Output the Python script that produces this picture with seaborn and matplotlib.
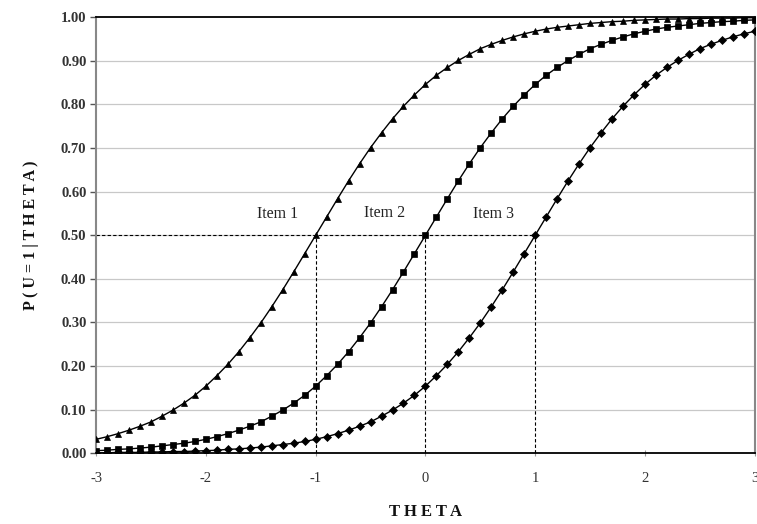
import numpy as np
import pandas as pd
import matplotlib
matplotlib.use("Agg")
import matplotlib.pyplot as plt
import seaborn as sns

# Ability grid (theta from -3 to 3 in steps of 0.1)
theta = np.round(np.arange(-30, 31) / 10, 1)

# Probability of a correct response for each item
item1 = [0.032, 0.038, 0.045, 0.053, 0.062, 0.072, 0.085, 0.099, 0.115, 0.133,
         0.154, 0.178, 0.204, 0.233, 0.265, 0.299, 0.336, 0.375, 0.416, 0.458,
         0.500, 0.542, 0.584, 0.625, 0.664, 0.701, 0.735, 0.767, 0.796, 0.822,
         0.846, 0.867, 0.885, 0.901, 0.915, 0.928, 0.938, 0.947, 0.955, 0.962,
         0.968, 0.973, 0.977, 0.980, 0.983, 0.986, 0.988, 0.990, 0.991, 0.993,
         0.994, 0.995, 0.996, 0.996, 0.997, 0.997, 0.998, 0.998, 0.998, 0.999,
         0.999]
item2 = [0.006, 0.007, 0.009, 0.010, 0.012, 0.014, 0.017, 0.020, 0.023, 0.027,
         0.032, 0.038, 0.045, 0.053, 0.062, 0.072, 0.085, 0.099, 0.115, 0.133,
         0.154, 0.178, 0.204, 0.233, 0.265, 0.299, 0.336, 0.375, 0.416, 0.458,
         0.500, 0.542, 0.584, 0.625, 0.664, 0.701, 0.735, 0.767, 0.796, 0.822,
         0.846, 0.867, 0.885, 0.901, 0.915, 0.928, 0.938, 0.947, 0.955, 0.962,
         0.968, 0.973, 0.977, 0.980, 0.983, 0.986, 0.988, 0.990, 0.991, 0.993,
         0.994]
item3 = [0.001, 0.001, 0.002, 0.002, 0.002, 0.003, 0.003, 0.004, 0.004, 0.005,
         0.006, 0.007, 0.009, 0.010, 0.012, 0.014, 0.017, 0.020, 0.023, 0.027,
         0.032, 0.038, 0.045, 0.053, 0.062, 0.072, 0.085, 0.099, 0.115, 0.133,
         0.154, 0.178, 0.204, 0.233, 0.265, 0.299, 0.336, 0.375, 0.416, 0.458,
         0.500, 0.542, 0.584, 0.625, 0.664, 0.701, 0.735, 0.767, 0.796, 0.822,
         0.846, 0.867, 0.885, 0.901, 0.915, 0.928, 0.938, 0.947, 0.955, 0.962,
         0.968]

item_names = ["Item 1", "Item 2", "Item 3"]
difficulty = [-1.0, 0.0, 1.0]
label_pos = [(-1.35, 0.548), (-0.37, 0.552), (0.62, 0.548)]
x_ticks = [-3, -2, -1, 0, 1, 2, 3]
y_ticks = np.round(np.arange(0, 11) / 10, 1)

markers = {"Item 1": "^", "Item 2": "s", "Item 3": "D"}
marker_sizes = {"Item 1": 4.3, "Item 2": 5.0, "Item 3": 4.3}

df = pd.DataFrame({
    "theta": np.tile(theta, 3),
    "p": item1 + item2 + item3,
    "item": np.repeat(item_names, len(theta)),
})

sns.set_style("white")
plt.rcParams["font.family"] = ["Liberation Serif", "DejaVu Serif"]

fig, ax = plt.subplots(figsize=(7.57, 5.24), dpi=100)
fig.subplots_adjust(left=0.127, right=0.997, top=0.967, bottom=0.135)

# Horizontal grid
for yv in y_ticks[1:-1]:
    ax.axhline(yv, color="#c8c8c8", lw=0.9, zorder=0)

# Reference lines at P = 0.5 and at each item's difficulty
ax.plot([x_ticks[0], max(difficulty)], [0.5, 0.5], color="black", lw=0.8,
        ls=(0, (3, 2)), zorder=1)
for b in difficulty:
    ax.plot([b, b], [0, 0.5], color="black", lw=0.8, ls=(0, (3, 2)), zorder=1)

# Item characteristic curves
for name in item_names:
    sns.lineplot(data=df[df["item"] == name], x="theta", y="p",
                 color="black", marker=markers[name], lw=1.0,
                 markersize=marker_sizes[name], markeredgewidth=0.5,
                 markeredgecolor="black", legend=False, ax=ax, zorder=3)

for name, (tx, ty) in zip(item_names, label_pos):
    ax.text(tx, ty, name, ha="center", va="center", fontsize=11.5, color="#222222")

ax.set_xlim(-3, 3)
ax.set_ylim(0, 1)
ax.set_xticks(x_ticks)
ax.set_xticklabels([str(v) for v in x_ticks], fontsize=10.5, color="#333333")
ax.set_yticks(y_ticks)
ax.set_yticklabels([f"{v:.2f}" for v in y_ticks], fontsize=10.5,
                   fontweight="bold", color="#333333")
ax.tick_params(axis="y", direction="out", length=4, width=1, color="#555555", left=True, pad=3)
ax.tick_params(axis="x", direction="inout", length=5, width=0.8, color="#999999", bottom=True, pad=11)

ax.set_xlabel("T H E T A", fontsize=12, fontweight="bold", labelpad=14, color="#111111")
ax.set_ylabel("P ( U = 1 | T H E T A )", fontsize=11.5, fontweight="bold", labelpad=16, color="#111111")

for side in ["top", "bottom"]:
    ax.spines[side].set_color("black")
    ax.spines[side].set_linewidth(1.3)
for side in ["left", "right"]:
    ax.spines[side].set_color("#888888")
    ax.spines[side].set_linewidth(1.5)

fig.savefig("out.png", dpi=100)
